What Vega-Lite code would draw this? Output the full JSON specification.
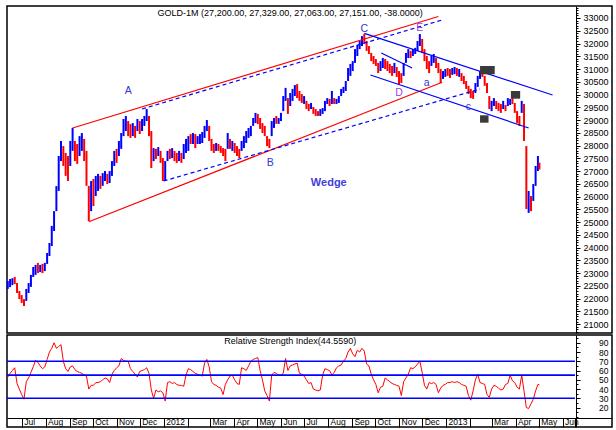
{
"$schema":"https://vega.github.io/schema/vega-lite/v6.json",
"padding":{"left":5,"top":5,"right":6,"bottom":6},
"background":"#ffffff",
"spacing":0,
"config":{"view":{"stroke":"#000000","strokeWidth":1.5},"font":"Liberation Sans","axis":{"domainColor":"#000000","tickColor":"#000000","labelColor":"#000000","labelFont":"Liberation Sans","grid":false}},
"datasets":{"bars":[
{"d":"2011-06-13","h":22690,"l":22380,"t":"u","r":53},
{"d":"2011-06-16","h":22770,"l":22450,"t":"u","r":57},
{"d":"2011-06-19","h":22800,"l":22530,"t":"u","r":60},
{"d":"2011-06-22","h":22850,"l":22570,"t":"d","r":63},
{"d":"2011-06-25","h":22610,"l":22220,"t":"d","r":46},
{"d":"2011-06-28","h":22300,"l":21980,"t":"d","r":40},
{"d":"2011-07-01","h":22140,"l":21830,"t":"d","r":34},
{"d":"2011-07-04","h":21980,"l":21710,"t":"d","r":29},
{"d":"2011-07-07","h":22380,"l":21910,"t":"u","r":48},
{"d":"2011-07-10","h":22610,"l":22220,"t":"u","r":52},
{"d":"2011-07-13","h":22930,"l":22460,"t":"u","r":58},
{"d":"2011-07-16","h":23240,"l":22850,"t":"u","r":64},
{"d":"2011-07-19","h":23320,"l":22930,"t":"u","r":71},
{"d":"2011-07-22","h":23400,"l":23000,"t":"d","r":69},
{"d":"2011-07-25","h":23320,"l":23040,"t":"u","r":65},
{"d":"2011-07-28","h":23360,"l":23000,"t":"d","r":62},
{"d":"2011-07-31","h":23400,"l":23080,"t":"u","r":64},
{"d":"2011-08-03","h":23790,"l":23360,"t":"u","r":72},
{"d":"2011-08-06","h":24180,"l":23670,"t":"u","r":80},
{"d":"2011-08-09","h":24850,"l":24060,"t":"u","r":84},
{"d":"2011-08-12","h":25430,"l":24650,"t":"u","r":90},
{"d":"2011-08-15","h":26410,"l":25430,"t":"u","r":84},
{"d":"2011-08-18","h":27590,"l":26220,"t":"u","r":86},
{"d":"2011-08-21","h":28180,"l":27390,"t":"u","r":88},
{"d":"2011-08-24","h":27980,"l":27200,"t":"d","r":70},
{"d":"2011-08-27","h":27710,"l":26810,"t":"d","r":62},
{"d":"2011-08-30","h":27590,"l":26610,"t":"d","r":59},
{"d":"2011-09-02","h":28180,"l":27200,"t":"u","r":64},
{"d":"2011-09-05","h":28690,"l":27790,"t":"u","r":65},
{"d":"2011-09-08","h":28180,"l":27390,"t":"d","r":61},
{"d":"2011-09-11","h":28060,"l":27280,"t":"d","r":59},
{"d":"2011-09-14","h":28370,"l":27590,"t":"u","r":58},
{"d":"2011-09-17","h":28490,"l":27790,"t":"u","r":57},
{"d":"2011-09-20","h":28260,"l":27390,"t":"d","r":55},
{"d":"2011-09-23","h":27790,"l":26420,"t":"d","r":54},
{"d":"2011-09-26","h":26420,"l":25040,"t":"d","r":40},
{"d":"2011-09-29","h":26610,"l":25430,"t":"u","r":44},
{"d":"2011-10-02","h":26690,"l":25630,"t":"d","r":44},
{"d":"2011-10-05","h":26810,"l":26020,"t":"u","r":47},
{"d":"2011-10-08","h":26890,"l":26220,"t":"u","r":47},
{"d":"2011-10-11","h":26810,"l":26300,"t":"d","r":48},
{"d":"2011-10-14","h":26920,"l":26420,"t":"u","r":50},
{"d":"2011-10-17","h":27000,"l":26610,"t":"u","r":52},
{"d":"2011-10-20","h":26890,"l":26490,"t":"d","r":51},
{"d":"2011-10-23","h":27000,"l":26530,"t":"u","r":47},
{"d":"2011-10-26","h":27390,"l":26810,"t":"u","r":56},
{"d":"2011-10-29","h":27790,"l":27200,"t":"u","r":60},
{"d":"2011-11-01","h":27870,"l":27320,"t":"d","r":63},
{"d":"2011-11-04","h":28180,"l":27590,"t":"u","r":65},
{"d":"2011-11-07","h":28490,"l":27870,"t":"u","r":73},
{"d":"2011-11-10","h":29040,"l":28370,"t":"u","r":71},
{"d":"2011-11-13","h":29160,"l":28570,"t":"u","r":70},
{"d":"2011-11-16","h":28960,"l":28370,"t":"d","r":70},
{"d":"2011-11-19","h":28840,"l":28300,"t":"d","r":62},
{"d":"2011-11-22","h":28880,"l":28370,"t":"u","r":59},
{"d":"2011-11-25","h":28770,"l":28300,"t":"d","r":56},
{"d":"2011-11-28","h":29040,"l":28570,"t":"u","r":53},
{"d":"2011-12-01","h":28960,"l":28450,"t":"d","r":59},
{"d":"2011-12-04","h":29040,"l":28570,"t":"u","r":60},
{"d":"2011-12-07","h":29160,"l":28770,"t":"u","r":61},
{"d":"2011-12-10","h":29430,"l":28960,"t":"u","r":63},
{"d":"2011-12-13","h":29160,"l":28370,"t":"d","r":57},
{"d":"2011-12-16","h":28570,"l":27120,"t":"d","r":39},
{"d":"2011-12-19","h":27900,"l":27390,"t":"u","r":30},
{"d":"2011-12-22","h":27870,"l":27470,"t":"d","r":39},
{"d":"2011-12-25","h":27940,"l":27590,"t":"u","r":37},
{"d":"2011-12-28","h":27790,"l":27320,"t":"d","r":38},
{"d":"2011-12-31","h":27510,"l":26610,"t":"d","r":36},
{"d":"2012-01-03","h":27390,"l":26610,"t":"u","r":27},
{"d":"2012-01-06","h":27790,"l":27390,"t":"u","r":47},
{"d":"2012-01-09","h":27870,"l":27470,"t":"d","r":48},
{"d":"2012-01-12","h":27900,"l":27510,"t":"u","r":46},
{"d":"2012-01-15","h":27790,"l":27390,"t":"d","r":47},
{"d":"2012-01-18","h":27710,"l":27320,"t":"d","r":45},
{"d":"2012-01-21","h":27790,"l":27390,"t":"u","r":44},
{"d":"2012-01-24","h":27710,"l":27320,"t":"d","r":44},
{"d":"2012-01-27","h":28060,"l":27470,"t":"u","r":43},
{"d":"2012-01-30","h":28260,"l":27710,"t":"u","r":55},
{"d":"2012-02-02","h":28370,"l":27790,"t":"u","r":62},
{"d":"2012-02-05","h":28450,"l":28060,"t":"d","r":61},
{"d":"2012-02-08","h":28490,"l":28060,"t":"u","r":59},
{"d":"2012-02-11","h":28450,"l":27900,"t":"d","r":57},
{"d":"2012-02-14","h":28370,"l":28060,"t":"u","r":56},
{"d":"2012-02-17","h":28450,"l":28060,"t":"u","r":55},
{"d":"2012-02-20","h":28530,"l":28100,"t":"u","r":54},
{"d":"2012-02-23","h":28770,"l":28300,"t":"u","r":68},
{"d":"2012-02-26","h":29000,"l":28570,"t":"u","r":72},
{"d":"2012-02-29","h":28770,"l":28180,"t":"d","r":64},
{"d":"2012-03-03","h":28260,"l":27790,"t":"d","r":48},
{"d":"2012-03-06","h":28060,"l":27710,"t":"d","r":45},
{"d":"2012-03-09","h":28100,"l":27790,"t":"u","r":44},
{"d":"2012-03-12","h":28060,"l":27790,"t":"d","r":42},
{"d":"2012-03-15","h":27980,"l":27710,"t":"d","r":41},
{"d":"2012-03-18","h":27900,"l":27590,"t":"d","r":34},
{"d":"2012-03-21","h":27870,"l":27390,"t":"d","r":45},
{"d":"2012-03-24","h":28490,"l":27870,"t":"u","r":50},
{"d":"2012-03-27","h":28260,"l":27870,"t":"d","r":54},
{"d":"2012-03-30","h":28180,"l":27790,"t":"u","r":55},
{"d":"2012-04-02","h":28100,"l":27710,"t":"d","r":50},
{"d":"2012-04-05","h":27980,"l":27590,"t":"d","r":46},
{"d":"2012-04-08","h":27870,"l":27510,"t":"d","r":45},
{"d":"2012-04-11","h":28180,"l":27790,"t":"u","r":63},
{"d":"2012-04-14","h":28370,"l":27900,"t":"u","r":62},
{"d":"2012-04-17","h":28570,"l":28100,"t":"u","r":60},
{"d":"2012-04-20","h":28690,"l":28300,"t":"u","r":65},
{"d":"2012-04-23","h":28770,"l":28370,"t":"u","r":70},
{"d":"2012-04-26","h":29080,"l":28770,"t":"u","r":72},
{"d":"2012-04-29","h":29280,"l":28880,"t":"u","r":73},
{"d":"2012-05-02","h":29240,"l":28840,"t":"d","r":74},
{"d":"2012-05-05","h":29080,"l":28650,"t":"d","r":60},
{"d":"2012-05-08","h":28880,"l":28490,"t":"d","r":50},
{"d":"2012-05-11","h":28770,"l":28370,"t":"d","r":38},
{"d":"2012-05-14","h":28370,"l":27980,"t":"d","r":33},
{"d":"2012-05-17","h":28260,"l":27900,"t":"d","r":27},
{"d":"2012-05-20","h":28960,"l":28370,"t":"u","r":55},
{"d":"2012-05-23","h":29080,"l":28690,"t":"u","r":58},
{"d":"2012-05-26","h":29160,"l":28850,"t":"d","r":57},
{"d":"2012-05-29","h":29080,"l":28850,"t":"u","r":55},
{"d":"2012-06-01","h":29280,"l":28960,"t":"u","r":55},
{"d":"2012-06-04","h":29940,"l":29350,"t":"u","r":57},
{"d":"2012-06-07","h":30260,"l":29750,"t":"u","r":73},
{"d":"2012-06-10","h":29860,"l":29240,"t":"d","r":60},
{"d":"2012-06-13","h":30060,"l":29550,"t":"u","r":65},
{"d":"2012-06-16","h":30220,"l":29750,"t":"u","r":66},
{"d":"2012-06-19","h":30370,"l":29940,"t":"u","r":67},
{"d":"2012-06-22","h":30410,"l":29860,"t":"d","r":68},
{"d":"2012-06-25","h":30140,"l":29750,"t":"d","r":57},
{"d":"2012-06-28","h":30020,"l":29670,"t":"d","r":56},
{"d":"2012-07-01","h":29940,"l":29630,"t":"u","r":54},
{"d":"2012-07-04","h":29750,"l":29430,"t":"d","r":50},
{"d":"2012-07-07","h":29630,"l":29350,"t":"d","r":46},
{"d":"2012-07-10","h":29670,"l":29430,"t":"u","r":47},
{"d":"2012-07-13","h":29510,"l":29240,"t":"d","r":40},
{"d":"2012-07-16","h":29430,"l":29160,"t":"d","r":39},
{"d":"2012-07-19","h":29350,"l":29160,"t":"d","r":38},
{"d":"2012-07-22","h":29430,"l":29160,"t":"u","r":39},
{"d":"2012-07-25","h":29470,"l":29240,"t":"u","r":55},
{"d":"2012-07-28","h":29750,"l":29350,"t":"u","r":62},
{"d":"2012-07-31","h":29860,"l":29630,"t":"u","r":61},
{"d":"2012-08-03","h":29830,"l":29550,"t":"d","r":60},
{"d":"2012-08-06","h":30140,"l":29630,"t":"u","r":55},
{"d":"2012-08-09","h":29860,"l":29630,"t":"d","r":58},
{"d":"2012-08-12","h":29830,"l":29630,"t":"u","r":63},
{"d":"2012-08-15","h":29940,"l":29670,"t":"u","r":65},
{"d":"2012-08-18","h":30220,"l":29940,"t":"u","r":66},
{"d":"2012-08-21","h":30300,"l":30060,"t":"u","r":70},
{"d":"2012-08-24","h":30530,"l":30140,"t":"u","r":73},
{"d":"2012-08-27","h":31040,"l":30530,"t":"u","r":80},
{"d":"2012-08-30","h":31200,"l":30730,"t":"u","r":84},
{"d":"2012-09-02","h":31310,"l":30920,"t":"u","r":78},
{"d":"2012-09-05","h":31780,"l":31240,"t":"u","r":75},
{"d":"2012-09-08","h":31940,"l":31510,"t":"u","r":82},
{"d":"2012-09-11","h":32100,"l":31780,"t":"u","r":80},
{"d":"2012-09-14","h":32290,"l":31900,"t":"u","r":84},
{"d":"2012-09-17","h":32370,"l":31980,"t":"d","r":81},
{"d":"2012-09-20","h":32100,"l":31710,"t":"d","r":67},
{"d":"2012-09-23","h":31900,"l":31590,"t":"d","r":65},
{"d":"2012-09-26","h":31630,"l":31310,"t":"d","r":56},
{"d":"2012-09-29","h":31510,"l":31200,"t":"d","r":50},
{"d":"2012-10-02","h":31390,"l":31120,"t":"d","r":45},
{"d":"2012-10-05","h":31240,"l":30840,"t":"d","r":36},
{"d":"2012-10-08","h":31310,"l":30920,"t":"u","r":42},
{"d":"2012-10-11","h":31430,"l":31040,"t":"u","r":43},
{"d":"2012-10-14","h":31390,"l":31000,"t":"d","r":52},
{"d":"2012-10-17","h":31310,"l":30920,"t":"d","r":50},
{"d":"2012-10-20","h":31200,"l":30840,"t":"d","r":48},
{"d":"2012-10-23","h":31120,"l":30730,"t":"d","r":46},
{"d":"2012-10-26","h":31240,"l":30840,"t":"u","r":45},
{"d":"2012-10-29","h":31080,"l":30690,"t":"d","r":44},
{"d":"2012-11-01","h":30920,"l":30410,"t":"d","r":43},
{"d":"2012-11-04","h":30840,"l":30450,"t":"d","r":33},
{"d":"2012-11-07","h":31240,"l":30730,"t":"u","r":48},
{"d":"2012-11-10","h":31630,"l":31240,"t":"u","r":52},
{"d":"2012-11-13","h":31780,"l":31430,"t":"u","r":56},
{"d":"2012-11-16","h":31710,"l":31430,"t":"d","r":63},
{"d":"2012-11-19","h":31780,"l":31510,"t":"u","r":62},
{"d":"2012-11-22","h":31830,"l":31590,"t":"u","r":64},
{"d":"2012-11-25","h":32100,"l":31710,"t":"u","r":67},
{"d":"2012-11-28","h":32370,"l":31900,"t":"u","r":70},
{"d":"2012-12-01","h":32180,"l":31630,"t":"d","r":58},
{"d":"2012-12-04","h":31780,"l":31310,"t":"d","r":44},
{"d":"2012-12-07","h":31510,"l":31000,"t":"d","r":40},
{"d":"2012-12-10","h":31310,"l":30840,"t":"d","r":47},
{"d":"2012-12-13","h":31510,"l":31120,"t":"u","r":46},
{"d":"2012-12-16","h":31590,"l":31240,"t":"u","r":47},
{"d":"2012-12-19","h":31430,"l":31040,"t":"d","r":45},
{"d":"2012-12-22","h":31240,"l":30840,"t":"d","r":36},
{"d":"2012-12-25","h":31000,"l":30450,"t":"d","r":41},
{"d":"2012-12-28","h":30920,"l":30610,"t":"u","r":44},
{"d":"2012-12-31","h":31000,"l":30690,"t":"u","r":45},
{"d":"2013-01-03","h":31040,"l":30730,"t":"d","r":47},
{"d":"2013-01-06","h":31000,"l":30650,"t":"d","r":47},
{"d":"2013-01-09","h":31040,"l":30770,"t":"u","r":48},
{"d":"2013-01-12","h":31080,"l":30800,"t":"u","r":47},
{"d":"2013-01-15","h":31040,"l":30730,"t":"d","r":48},
{"d":"2013-01-18","h":31000,"l":30690,"t":"u","r":47},
{"d":"2013-01-21","h":30840,"l":30530,"t":"d","r":45},
{"d":"2013-01-24","h":30730,"l":30410,"t":"d","r":44},
{"d":"2013-01-27","h":30530,"l":30220,"t":"d","r":43},
{"d":"2013-01-30","h":30340,"l":30020,"t":"d","r":33},
{"d":"2013-02-02","h":30220,"l":29860,"t":"d","r":28},
{"d":"2013-02-05","h":30140,"l":29830,"t":"d","r":38},
{"d":"2013-02-08","h":30450,"l":30060,"t":"u","r":50},
{"d":"2013-02-11","h":30730,"l":30300,"t":"u","r":56},
{"d":"2013-02-14","h":30920,"l":30610,"t":"u","r":47},
{"d":"2013-02-17","h":30920,"l":30690,"t":"d","r":46},
{"d":"2013-02-20","h":30730,"l":30340,"t":"d","r":45},
{"d":"2013-02-23","h":30450,"l":30060,"t":"d","r":34},
{"d":"2013-02-26","h":29940,"l":29430,"t":"d","r":31},
{"d":"2013-03-01","h":29750,"l":29350,"t":"u","r":40},
{"d":"2013-03-04","h":29860,"l":29550,"t":"u","r":44},
{"d":"2013-03-07","h":29750,"l":29430,"t":"d","r":43},
{"d":"2013-03-10","h":29670,"l":29350,"t":"d","r":41},
{"d":"2013-03-13","h":29630,"l":29280,"t":"d","r":39},
{"d":"2013-03-16","h":29750,"l":29430,"t":"u","r":40},
{"d":"2013-03-19","h":29590,"l":29350,"t":"d","r":45},
{"d":"2013-03-22","h":29860,"l":29550,"t":"u","r":46},
{"d":"2013-03-25","h":29830,"l":29590,"t":"u","r":55},
{"d":"2013-03-28","h":29860,"l":29630,"t":"d","r":49},
{"d":"2013-03-31","h":29670,"l":29280,"t":"d","r":47},
{"d":"2013-04-03","h":29350,"l":28880,"t":"d","r":42},
{"d":"2013-04-06","h":29160,"l":28770,"t":"d","r":40},
{"d":"2013-04-09","h":29750,"l":29280,"t":"u","r":55},
{"d":"2013-04-12","h":29630,"l":28180,"t":"d","r":38},
{"d":"2013-04-15","h":27980,"l":25510,"t":"d","r":20},
{"d":"2013-04-18","h":26220,"l":25360,"t":"u","r":19},
{"d":"2013-04-21","h":26020,"l":25430,"t":"d","r":24},
{"d":"2013-04-24","h":26490,"l":25830,"t":"u","r":29},
{"d":"2013-04-27","h":27200,"l":26420,"t":"u","r":38},
{"d":"2013-04-30","h":27590,"l":27000,"t":"u","r":45},
{"d":"2013-05-02","h":27329,"l":27063,"t":"d","r":44.56}
]},
"vconcat":[
{
"width":605,"height":327,
"layer":[
{"data":{"name":"bars"},"mark":{"type":"rule","strokeWidth":2},
"encoding":{
"x":{"field":"d","type":"temporal","scale":{"type":"utc","nice":false,"domain":[{"year":2011,"month":6,"date":12,"utc":true},{"year":2013,"month":8,"date":4,"utc":true}]},"axis":null},
"y":{"field":"l","type":"quantitative","scale":{"domain":[20652,33470],"nice":false,"zero":false},
"axis":{"orient":"right","offset":-36,"title":null,"values":[21000,21500,22000,22500,23000,23500,24000,24500,25000,25500,26000,26500,27000,27500,28000,28500,29000,29500,30000,30500,31000,31500,32000,32500,33000],"format":"d","tickSize":4,"labelAlign":"right","labelPadding":28,"labelFontSize":9,"labelBaseline":"middle","domain":true,"labelOverlap":false,"labelBound":false,"labelFlush":false}},
"y2":{"field":"h"},
"color":{"field":"t","type":"nominal","scale":{"domain":["u","d"],"range":["#0000ff","#ff0000"]},"legend":null}}},
{"data":{"values":[{"x1":"2011-09-05","y1":28688,"x2":"2012-12-22","y2":33059},{"x1":"2011-09-26","y1":25015,"x2":"2012-12-27","y2":30479}]},
"mark":{"type":"rule","color":"#ff0000","strokeWidth":1.2},
"encoding":{
"x":{"field":"x1","type":"temporal","scale":{"type":"utc","nice":false,"domain":[{"year":2011,"month":6,"date":12,"utc":true},{"year":2013,"month":8,"date":4,"utc":true}]},"axis":null},
"x2":{"field":"x2"},
"y":{"field":"y1","type":"quantitative","scale":{"domain":[20652,33470],"nice":false,"zero":false},
"axis":{"orient":"right","offset":-36,"title":null,"labels":false,"domain":false,"tickSize":2,"values":[20700,20800,20900,21000,21100,21200,21300,21400,21500,21600,21700,21800,21900,22000,22100,22200,22300,22400,22500,22600,22700,22800,22900,23000,23100,23200,23300,23400,23500,23600,23700,23800,23900,24000,24100,24200,24300,24400,24500,24600,24700,24800,24900,25000,25100,25200,25300,25400,25500,25600,25700,25800,25900,26000,26100,26200,26300,26400,26500,26600,26700,26800,26900,27000,27100,27200,27300,27400,27500,27600,27700,27800,27900,28000,28100,28200,28300,28400,28500,28600,28700,28800,28900,29000,29100,29200,29300,29400,29500,29600,29700,29800,29900,30000,30100,30200,30300,30400,30500,30600,30700,30800,30900,31000,31100,31200,31300,31400,31500,31600,31700,31800,31900,32000,32100,32200,32300,32400,32500,32600,32700,32800,32900,33000,33100,33200,33300,33400]}},
"y2":{"field":"y2"}}},
{"data":{"values":[{"x1":"2011-12-04","y1":29433,"x2":"2012-12-27","y2":32922},{"x1":"2012-01-01","y1":26610,"x2":"2013-02-14","y2":30217}]},
"mark":{"type":"rule","color":"#0000ff","strokeWidth":1.2,"strokeDash":[4,3]},
"encoding":{
"x":{"field":"x1","type":"temporal","scale":{"type":"utc","nice":false,"domain":[{"year":2011,"month":6,"date":12,"utc":true},{"year":2013,"month":8,"date":4,"utc":true}]},"axis":null},
"x2":{"field":"x2"},
"y":{"field":"y1","type":"quantitative","scale":{"domain":[20652,33470],"nice":false,"zero":false},"axis":null},
"y2":{"field":"y2"}}},
{"data":{"values":[{"x1":"2012-09-17","y1":32396,"x2":"2013-05-19","y2":29982},{"x1":"2012-09-25","y1":30766,"x2":"2013-04-18","y2":28688},{"x1":"2012-10-09","y1":31628,"x2":"2012-11-18","y2":31040}]},
"mark":{"type":"rule","color":"#0000ff","strokeWidth":1.2},
"encoding":{
"x":{"field":"x1","type":"temporal","scale":{"type":"utc","nice":false,"domain":[{"year":2011,"month":6,"date":12,"utc":true},{"year":2013,"month":8,"date":4,"utc":true}]},"axis":null},
"x2":{"field":"x2"},
"y":{"field":"y1","type":"quantitative","scale":{"domain":[20652,33470],"nice":false,"zero":false},"axis":null},
"y2":{"field":"y2"}}},
{"data":{"values":[{"a":"2013-02-14","b":"2013-03-05","lo":30793,"hi":31118},{"a":"2013-03-26","b":"2013-04-07","lo":29837,"hi":30138},{"a":"2013-02-14","b":"2013-02-25","lo":28896,"hi":29186}]},
"mark":{"type":"rect","color":"#3a3a3a"},
"encoding":{
"x":{"field":"a","type":"temporal","scale":{"type":"utc","nice":false,"domain":[{"year":2011,"month":6,"date":12,"utc":true},{"year":2013,"month":8,"date":4,"utc":true}]},"axis":null},
"x2":{"field":"b"},
"y":{"field":"lo","type":"quantitative","scale":{"domain":[20652,33470],"nice":false,"zero":false},"axis":null},
"y2":{"field":"hi"}}},
{"data":{"values":[{"s":"A","d":"2011-11-16","p":30138,"g":"b"},{"s":"B","d":"2012-05-18","p":27316,"g":"b"},{"s":"C","d":"2012-09-17","p":32569,"g":"b"},{"s":"D","d":"2012-11-01","p":30060,"g":"p"},{"s":"E","d":"2012-11-28","p":32608,"g":"p"},{"s":"a","d":"2012-12-07","p":30452,"g":"b"},{"s":"c","d":"2013-01-30","p":29511,"g":"b"}]},
"mark":{"type":"text","fontSize":10.5,"font":"Liberation Sans","align":"center","baseline":"middle"},
"encoding":{
"x":{"field":"d","type":"temporal","scale":{"type":"utc","nice":false,"domain":[{"year":2011,"month":6,"date":12,"utc":true},{"year":2013,"month":8,"date":4,"utc":true}]},"axis":null},
"y":{"field":"p","type":"quantitative","scale":{"domain":[20652,33470],"nice":false,"zero":false},"axis":null},
"text":{"field":"s"},
"color":{"field":"g","type":"nominal","scale":{"domain":["b","p"],"range":["#3434d2","#9a44e0"]},"legend":null}}},
{"data":{"values":[{"s":"Wedge","d":"2012-08-02","p":26532}]},
"mark":{"type":"text","fontSize":11,"fontWeight":"bold","font":"Liberation Sans","color":"#4040dc","align":"center","baseline":"middle"},
"encoding":{
"x":{"field":"d","type":"temporal","scale":{"type":"utc","nice":false,"domain":[{"year":2011,"month":6,"date":12,"utc":true},{"year":2013,"month":8,"date":4,"utc":true}]},"axis":null},
"y":{"field":"p","type":"quantitative","scale":{"domain":[20652,33470],"nice":false,"zero":false},"axis":null},
"text":{"field":"s"}}},
{"data":{"values":[{"s":"GOLD-1M (27,200.00, 27,329.00, 27,063.00, 27,151.00, -38.0000)","d":"2012-06-13","p":33196}]},
"mark":{"type":"text","fontSize":9,"font":"Liberation Sans","color":"#000000","align":"center","baseline":"middle"},
"encoding":{
"x":{"field":"d","type":"temporal","scale":{"type":"utc","nice":false,"domain":[{"year":2011,"month":6,"date":12,"utc":true},{"year":2013,"month":8,"date":4,"utc":true}]},"axis":null},
"y":{"field":"p","type":"quantitative","scale":{"domain":[20652,33470],"nice":false,"zero":false},"axis":null},
"text":{"field":"s"}}}
],
"resolve":{"axis":{"x":"independent","y":"independent"},"scale":{"color":"independent"}}
},
{
"width":605,"height":92,
"layer":[
{"data":{"name":"bars"},"mark":{"type":"line","color":"#ff0000","strokeWidth":1},
"encoding":{
"x":{"field":"d","type":"temporal","scale":{"type":"utc","nice":false,"domain":[{"year":2011,"month":6,"date":12,"utc":true},{"year":2013,"month":8,"date":4,"utc":true}]},
"axis":{"orient":"bottom","offset":-9,"title":null,"domain":true,"ticks":true,"labels":true,"tickSize":9,"labelAlign":"left","labelBaseline":"top","labelPadding":-9.5,"labelOffset":2,"labelFontSize":8.5,"labelOverlap":false,"labelFlush":false,"labelBound":false,
"values":[1309478400000,1312156800000,1314835200000,1317427200000,1320105600000,1322697600000,1325376000000,1328054400000,1330560000000,1333238400000,1335830400000,1338508800000,1341100800000,1343779200000,1346457600000,1349049600000,1351728000000,1354320000000,1356998400000,1359676800000,1362096000000,1364774400000,1367366400000,1370044800000,1371427200000],
"labelExpr":"datum.value > 1371000000000 ? '' : utcmonth(datum.value) == 0 ? utcFormat(datum.value, '%Y') : utcmonth(datum.value) == 1 ? '' : utcFormat(datum.value, '%b')"}},
"y":{"field":"r","type":"quantitative","scale":{"domain":[-1,98.4],"nice":false,"zero":false},
"axis":{"orient":"right","offset":-36,"title":null,"values":[20,30,40,50,60,70,80,90],"tickSize":4,"labelAlign":"right","labelPadding":28,"labelFontSize":8.5,"labelBaseline":"middle","labelOverlap":false,"labelBound":false,"labelFlush":false}}}},
{"data":{"values":[{"v":70},{"v":55},{"v":30}]},"mark":{"type":"rule","color":"#0000ff","strokeWidth":1.6},
"encoding":{
"x":{"datum":{"year":2011,"month":6,"date":12,"utc":true},"type":"temporal","scale":{"type":"utc","nice":false,"domain":[{"year":2011,"month":6,"date":12,"utc":true},{"year":2013,"month":8,"date":4,"utc":true}]},"axis":null},
"x2":{"datum":{"year":2013,"month":6,"date":17,"utc":true}},
"y":{"field":"v","type":"quantitative","scale":{"domain":[-1,98.4],"nice":false,"zero":false},
"axis":{"orient":"right","offset":-36,"title":null,"labels":false,"domain":false,"tickSize":2,"values":[10,15,25,35,45,55,65,75,85,95]}}}},
{"data":{"values":[{"s":"Relative Strength Index(44.5590)","d":"2012-06-13","v":91.6}]},
"mark":{"type":"text","fontSize":9,"font":"Liberation Sans","color":"#000000","align":"center","baseline":"middle"},
"encoding":{
"x":{"field":"d","type":"temporal","scale":{"type":"utc","nice":false,"domain":[{"year":2011,"month":6,"date":12,"utc":true},{"year":2013,"month":8,"date":4,"utc":true}]},"axis":null},
"y":{"field":"v","type":"quantitative","scale":{"domain":[-1,98.4],"nice":false,"zero":false},"axis":null},
"text":{"field":"s"}}}
],
"resolve":{"axis":{"x":"independent","y":"independent"}}
}
]
}
